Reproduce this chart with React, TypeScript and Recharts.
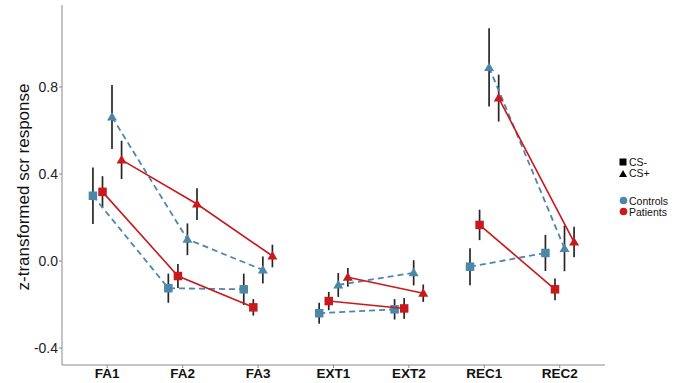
import { ScatterChart, Scatter, XAxis, YAxis, ErrorBar } from "recharts";

const phases = ["FA1", "FA2", "FA3", "EXT1", "EXT2", "REC1", "REC2"];
const phaseGroups = [[0, 1, 2], [3, 4], [5, 6]];
const yTicks = [-0.4, 0, 0.4, 0.8];

const controlsCSMinus = [0.3, -0.125, -0.13, -0.24, -0.222, -0.026, 0.037];
const controlsCSMinusErr = [0.13, 0.067, 0.072, 0.048, 0.047, 0.085, 0.083];
const patientsCSMinus = [0.318, -0.069, -0.213, -0.184, -0.218, 0.166, -0.13];
const patientsCSMinusErr = [0.072, 0.055, 0.038, 0.042, 0.048, 0.07, 0.05];
const controlsCSPlus = [0.662, 0.1, -0.041, -0.11, -0.054, 0.89, 0.058];
const controlsCSPlusErr = [0.147, 0.073, 0.062, 0.055, 0.058, 0.18, 0.105];
const patientsCSPlus = [0.465, 0.262, 0.023, -0.075, -0.148, 0.749, 0.087];
const patientsCSPlusErr = [0.088, 0.073, 0.052, 0.043, 0.04, 0.108, 0.07];

const BLUE = "#4b87a9";
const RED = "#c9191c";
const FONT = "'Liberation Sans', Arial, sans-serif";

const series = [
  { key: "cm", values: controlsCSMinus, errors: controlsCSMinusErr, offset: -0.19, color: BLUE, dashed: true, shape: "square" },
  { key: "cp", values: controlsCSPlus, errors: controlsCSPlusErr, offset: 0.063, color: BLUE, dashed: true, shape: "triangle" },
  { key: "pm", values: patientsCSMinus, errors: patientsCSMinusErr, offset: -0.063, color: RED, dashed: false, shape: "square" },
  { key: "pp", values: patientsCSPlus, errors: patientsCSPlusErr, offset: 0.19, color: RED, dashed: false, shape: "triangle" },
];

function makeShape(kind: string, color: string) {
  return (props: any) => {
    const { cx, cy } = props;
    if (kind === "square") {
      return <rect x={cx - 4.25} y={cy - 4.25} width={8.5} height={8.5} fill={color} />;
    }
    return (
      <polygon
        points={`${cx},${cy - 5} ${cx - 5},${cy + 3.5} ${cx + 5},${cy + 3.5}`}
        fill={color}
      />
    );
  };
}

export default function App() {
  return (
    <div style={{ position: "absolute", left: 0, top: 0, width: 683, height: 383, background: "#fff" }}>
      <ScatterChart
        width={683}
        height={383}
        margin={{ top: 5, right: 78, bottom: 0, left: 0 }}
        style={{ fontFamily: FONT }}
      >
        <XAxis
          type="number"
          dataKey="x"
          domain={[-0.6, 6.6]}
          allowDataOverflow
          ticks={[0, 1, 2, 3, 4, 5, 6]}
          tickFormatter={(v) => phases[v]}
          height={18}
          stroke="#8a8a8a"
          tickSize={3}
          tickMargin={0}
          tick={{ fill: "#111", fontSize: 13.5, fontWeight: "bold" }}
        />
        <YAxis
          type="number"
          dataKey="y"
          domain={[-0.478, 1.177]}
          allowDataOverflow
          ticks={yTicks}
          tickFormatter={(v) => v.toFixed(1)}
          width={62}
          stroke="#8a8a8a"
          tickSize={3}
          tickMargin={1}
          tick={{ fill: "#222", fontSize: 14 }}
        />
        {series.flatMap((s) =>
          phaseGroups.map((g, gi) => (
            <Scatter
              key={`${s.key}-${gi}`}
              data={g.map((i) => ({ x: i + s.offset, y: s.values[i], err: s.errors[i] }))}
              fill={s.color}
              line={{
                stroke: s.color,
                strokeWidth: s.dashed ? 1.8 : 1.6,
                strokeDasharray: s.dashed ? "6 4" : undefined,
              }}
              shape={makeShape(s.shape, s.color)}
              isAnimationActive={false}
            >
              <ErrorBar dataKey="err" direction="y" width={0} stroke="#262626" strokeWidth={1.7} />
            </Scatter>
          ))
        )}
      </ScatterChart>
      <svg
        width={683}
        height={383}
        style={{ position: "absolute", left: 0, top: 0, pointerEvents: "none", fontFamily: FONT }}
      >
        <text
          transform="translate(29,187) rotate(-90)"
          textAnchor="middle"
          fontSize={17}
          fill="#111"
        >
          z-transformed scr response
        </text>
        <rect x={619.5} y={158.5} width={7} height={7} fill="#000" />
        <text x={629} y={166} fontSize={10.5} fill="#111">CS-</text>
        <polygon points="623,170 619,177 627,177" fill="#000" />
        <text x={629} y={177} fontSize={10.5} fill="#111">CS+</text>
        <circle cx={623.5} cy={200.5} r={3.8} fill={BLUE} />
        <text x={629} y={204.5} fontSize={10.5} fill="#111">Controls</text>
        <circle cx={623.5} cy={211.5} r={3.8} fill={RED} />
        <text x={629} y={215.5} fontSize={10.5} fill="#111">Patients</text>
      </svg>
    </div>
  );
}
